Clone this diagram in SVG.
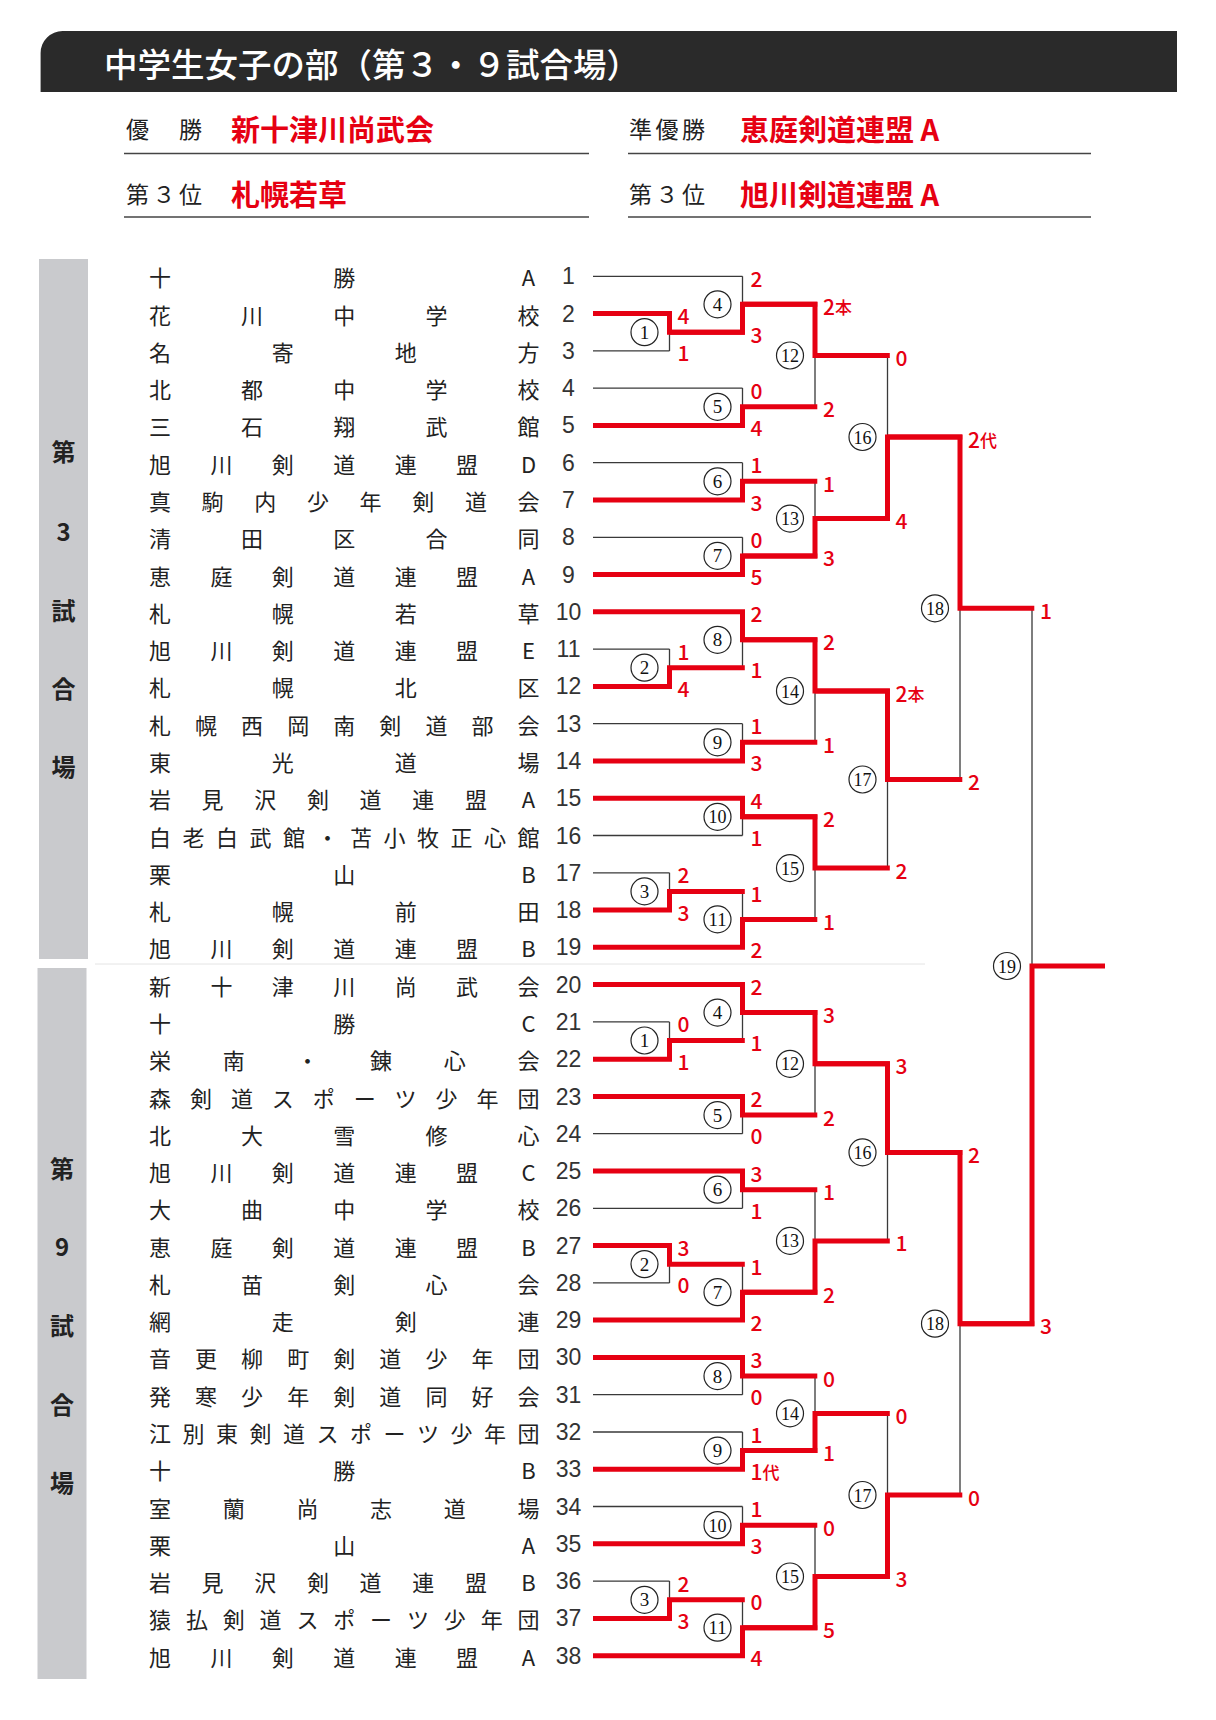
<svg xmlns="http://www.w3.org/2000/svg" width="1216" height="1720" viewBox="0 0 1216 1720">
<defs>
<style>
.nm{font-family:"Noto Sans CJK JP",sans-serif;font-size:22px;fill:#222;text-anchor:middle;dominant-baseline:central}
.no{font-family:"Liberation Sans",sans-serif;font-size:23px;fill:#333;text-anchor:middle;dominant-baseline:central}
.bk{stroke:#3a3a3a;stroke-width:1.3;fill:none}
.rd{stroke:#e60012;stroke-width:5;fill:none;stroke-linejoin:miter}
.sc{font-family:"Noto Sans CJK JP",sans-serif;font-size:21px;font-weight:500;fill:#e60012;dominant-baseline:central}
.sk{font-size:17px}
.cc{fill:#fff;stroke:#222;stroke-width:1.2}
.cn{font-family:"Liberation Serif",serif;font-size:19px;fill:#111;text-anchor:middle;dominant-baseline:central}
.sd{font-family:"Noto Sans CJK JP",sans-serif;font-size:24px;font-weight:700;fill:#222;text-anchor:middle;dominant-baseline:central}
.lb{font-family:"Noto Sans CJK JP",sans-serif;font-size:23px;fill:#222;letter-spacing:3.5px;dominant-baseline:central}
.rt{font-family:"Noto Sans CJK JP",sans-serif;font-size:29px;font-weight:700;fill:#e60012;dominant-baseline:central}
.ul{stroke:#444;stroke-width:1.6}
</style>
</defs>
<rect width="1216" height="1720" fill="#fff"/>
<g id="header">
<path d="M40.6 92 V53 A22 22 0 0 1 62.6 31 H1177 V92 Z" fill="#2a2a2a"/>
<text x="104" y="62" font-family="'Noto Sans CJK JP',sans-serif" font-size="33.5" font-weight="500" fill="#fff" dominant-baseline="central">中学生女子の部（第３・９試合場）</text>
</g>
<g id="results">
<text class="lb" x="126" y="128">優　勝</text>
<text class="rt" x="231" y="128">新十津川尚武会</text>
<line class="ul" x1="124" y1="153.5" x2="589" y2="153.5"/>
<text class="lb" x="629" y="128">準優勝</text>
<text class="rt" x="740" y="128">恵庭剣道連盟 A</text>
<line class="ul" x1="628" y1="153.5" x2="1091" y2="153.5"/>
<text class="lb" x="126" y="193">第３位</text>
<text class="rt" x="231" y="193">札幌若草</text>
<line class="ul" x1="124" y1="217" x2="589" y2="217"/>
<text class="lb" x="629" y="193">第３位</text>
<text class="rt" x="740" y="193">旭川剣道連盟 A</text>
<line class="ul" x1="628" y1="217" x2="1091" y2="217"/>
</g>
<g id="venue-3">
<rect x="39" y="259" width="49" height="700" fill="#c9cacd"/>
<text class="sd" x="63.5" y="450.7">第</text>
<text class="sd" x="63.5" y="530.7">3</text>
<text class="sd" x="63.5" y="609.7">試</text>
<text class="sd" x="63.5" y="687.5">合</text>
<text class="sd" x="63.5" y="765.4">場</text>
</g>
<g id="venue-9">
<rect x="37.5" y="968" width="49" height="711" fill="#c9cacd"/>
<text class="sd" x="62" y="1167.8">第</text>
<text class="sd" x="62" y="1245.6">9</text>
<text class="sd" x="62" y="1324.6">試</text>
<text class="sd" x="62" y="1403.5">合</text>
<text class="sd" x="62" y="1481.4">場</text>
</g>
<line x1="95" y1="964" x2="925" y2="964" stroke="#e4e4e4" stroke-width="1"/>
<g id="teams">
<g id="team-1"><text class="nm" x="160 344.3 528.5" y="276.3">十勝A</text><text class="no" x="568.5" y="276.3">1</text></g>
<g id="team-2"><text class="nm" x="160 252.1 344.3 436.4 528.5" y="313.6">花川中学校</text><text class="no" x="568.5" y="313.6">2</text></g>
<g id="team-3"><text class="nm" x="160 282.8 405.7 528.5" y="350.9">名寄地方</text><text class="no" x="568.5" y="350.9">3</text></g>
<g id="team-4"><text class="nm" x="160 252.1 344.3 436.4 528.5" y="388.1">北都中学校</text><text class="no" x="568.5" y="388.1">4</text></g>
<g id="team-5"><text class="nm" x="160 252.1 344.3 436.4 528.5" y="425.4">三石翔武館</text><text class="no" x="568.5" y="425.4">5</text></g>
<g id="team-6"><text class="nm" x="160 221.4 282.8 344.3 405.7 467.1 528.5" y="462.7">旭川剣道連盟D</text><text class="no" x="568.5" y="462.7">6</text></g>
<g id="team-7"><text class="nm" x="160 212.6 265.3 317.9 370.6 423.2 475.9 528.5" y="500">真駒内少年剣道会</text><text class="no" x="568.5" y="500">7</text></g>
<g id="team-8"><text class="nm" x="160 252.1 344.3 436.4 528.5" y="537.3">清田区合同</text><text class="no" x="568.5" y="537.3">8</text></g>
<g id="team-9"><text class="nm" x="160 221.4 282.8 344.3 405.7 467.1 528.5" y="574.5">恵庭剣道連盟A</text><text class="no" x="568.5" y="574.5">9</text></g>
<g id="team-10"><text class="nm" x="160 282.8 405.7 528.5" y="611.8">札幌若草</text><text class="no" x="568.5" y="611.8">10</text></g>
<g id="team-11"><text class="nm" x="160 221.4 282.8 344.3 405.7 467.1 528.5" y="649.1">旭川剣道連盟E</text><text class="no" x="568.5" y="649.1">11</text></g>
<g id="team-12"><text class="nm" x="160 282.8 405.7 528.5" y="686.4">札幌北区</text><text class="no" x="568.5" y="686.4">12</text></g>
<g id="team-13"><text class="nm" x="160 206.1 252.1 298.2 344.3 390.3 436.4 482.4 528.5" y="723.7">札幌西岡南剣道部会</text><text class="no" x="568.5" y="723.7">13</text></g>
<g id="team-14"><text class="nm" x="160 282.8 405.7 528.5" y="760.9">東光道場</text><text class="no" x="568.5" y="760.9">14</text></g>
<g id="team-15"><text class="nm" x="160 212.6 265.3 317.9 370.6 423.2 475.9 528.5" y="798.2">岩見沢剣道連盟A</text><text class="no" x="568.5" y="798.2">15</text></g>
<g id="team-16"><text class="nm" x="160 193.5 227 260.5 294 327.5 361 394.5 428 461.5 495 528.5" y="835.5">白老白武館・苫小牧正心館</text><text class="no" x="568.5" y="835.5">16</text></g>
<g id="team-17"><text class="nm" x="160 344.3 528.5" y="872.8">栗山B</text><text class="no" x="568.5" y="872.8">17</text></g>
<g id="team-18"><text class="nm" x="160 282.8 405.7 528.5" y="910.1">札幌前田</text><text class="no" x="568.5" y="910.1">18</text></g>
<g id="team-19"><text class="nm" x="160 221.4 282.8 344.3 405.7 467.1 528.5" y="947.3">旭川剣道連盟B</text><text class="no" x="568.5" y="947.3">19</text></g>
<g id="team-20"><text class="nm" x="160 221.4 282.8 344.3 405.7 467.1 528.5" y="984.6">新十津川尚武会</text><text class="no" x="568.5" y="984.6">20</text></g>
<g id="team-21"><text class="nm" x="160 344.3 528.5" y="1021.9">十勝C</text><text class="no" x="568.5" y="1021.9">21</text></g>
<g id="team-22"><text class="nm" x="160 233.7 307.4 381.1 454.8 528.5" y="1059.2">栄南・錬心会</text><text class="no" x="568.5" y="1059.2">22</text></g>
<g id="team-23"><text class="nm" x="160 200.9 241.9 282.8 323.8 364.7 405.6 446.6 487.5 528.5" y="1096.5">森剣道スポーツ少年団</text><text class="no" x="568.5" y="1096.5">23</text></g>
<g id="team-24"><text class="nm" x="160 252.1 344.3 436.4 528.5" y="1133.7">北大雪修心</text><text class="no" x="568.5" y="1133.7">24</text></g>
<g id="team-25"><text class="nm" x="160 221.4 282.8 344.3 405.7 467.1 528.5" y="1171">旭川剣道連盟C</text><text class="no" x="568.5" y="1171">25</text></g>
<g id="team-26"><text class="nm" x="160 252.1 344.3 436.4 528.5" y="1208.3">大曲中学校</text><text class="no" x="568.5" y="1208.3">26</text></g>
<g id="team-27"><text class="nm" x="160 221.4 282.8 344.3 405.7 467.1 528.5" y="1245.6">恵庭剣道連盟B</text><text class="no" x="568.5" y="1245.6">27</text></g>
<g id="team-28"><text class="nm" x="160 252.1 344.3 436.4 528.5" y="1282.9">札苗剣心会</text><text class="no" x="568.5" y="1282.9">28</text></g>
<g id="team-29"><text class="nm" x="160 282.8 405.7 528.5" y="1320.1">網走剣連</text><text class="no" x="568.5" y="1320.1">29</text></g>
<g id="team-30"><text class="nm" x="160 206.1 252.1 298.2 344.3 390.3 436.4 482.4 528.5" y="1357.4">音更柳町剣道少年団</text><text class="no" x="568.5" y="1357.4">30</text></g>
<g id="team-31"><text class="nm" x="160 206.1 252.1 298.2 344.3 390.3 436.4 482.4 528.5" y="1394.7">発寒少年剣道同好会</text><text class="no" x="568.5" y="1394.7">31</text></g>
<g id="team-32"><text class="nm" x="160 193.5 227 260.5 294 327.5 361 394.5 428 461.5 495 528.5" y="1432">江別東剣道スポーツ少年団</text><text class="no" x="568.5" y="1432">32</text></g>
<g id="team-33"><text class="nm" x="160 344.3 528.5" y="1469.3">十勝B</text><text class="no" x="568.5" y="1469.3">33</text></g>
<g id="team-34"><text class="nm" x="160 233.7 307.4 381.1 454.8 528.5" y="1506.5">室蘭尚志道場</text><text class="no" x="568.5" y="1506.5">34</text></g>
<g id="team-35"><text class="nm" x="160 344.3 528.5" y="1543.8">栗山A</text><text class="no" x="568.5" y="1543.8">35</text></g>
<g id="team-36"><text class="nm" x="160 212.6 265.3 317.9 370.6 423.2 475.9 528.5" y="1581.1">岩見沢剣道連盟B</text><text class="no" x="568.5" y="1581.1">36</text></g>
<g id="team-37"><text class="nm" x="160 196.9 233.7 270.6 307.4 344.3 381.1 418 454.8 491.7 528.5" y="1618.4">猿払剣道スポーツ少年団</text><text class="no" x="568.5" y="1618.4">37</text></g>
<g id="team-38"><text class="nm" x="160 221.4 282.8 344.3 405.7 467.1 528.5" y="1655.7">旭川剣道連盟A</text><text class="no" x="568.5" y="1655.7">38</text></g>
</g>
<g id="connectors">
<path class="bk" d="M593 276.3H742.5M593 313.6H669.5M593 350.9H669.5M593 388.1H742.5M593 425.4H742.5M593 462.7H742.5M593 500H742.5M593 537.3H742.5M593 574.5H742.5M593 611.8H742.5M593 649.1H669.5M593 686.4H669.5M593 723.7H742.5M593 760.9H742.5M593 798.2H742.5M593 835.5H742.5M593 872.8H669.5M593 910.1H669.5M593 947.3H742.5
M593 984.6H742.5M593 1021.9H669.5M593 1059.2H669.5M593 1096.5H742.5M593 1133.7H742.5M593 1171H742.5M593 1208.3H742.5M593 1245.6H669.5M593 1282.9H669.5M593 1320.1H742.5M593 1357.4H742.5M593 1394.7H742.5M593 1432H742.5M593 1469.3H742.5M593 1506.5H742.5M593 1543.8H742.5M593 1581.1H669.5M593 1618.4H669.5M593 1655.7H742.5
M669.5 313.6V350.9M669.5 649.1V686.4M669.5 872.8V910.1
M742.5 276.3V332.2M742.5 388.1V425.4M742.5 462.7V500M742.5 537.3V574.5M742.5 611.8V667.7M742.5 723.7V760.9M742.5 798.2V835.5M742.5 891.4V947.3
M815 304.3V406.8M815 481.3V555.9M815 639.8V742.3M815 816.8V919.4
M887.5 355.5V518.6M887.5 691V868.1M960 437V779.5M1032 608.3V1323.7
M669.5 1021.9V1059.2M669.5 1245.6V1282.9M669.5 1581.1V1618.4
M742.5 984.6V1040.5M742.5 1096.5V1133.7M742.5 1171V1208.3M742.5 1264.2V1320.1M742.5 1357.4V1394.7M742.5 1432V1469.3M742.5 1506.5V1543.8M742.5 1599.8V1655.7
M815 1012.6V1115.1M815 1189.7V1292.2M815 1376.1V1450.6M815 1525.2V1627.7
M887.5 1063.8V1240.9M887.5 1413.4V1576.5M960 1152.4V1495"/>
<g class="rd">
<path d="M593 313.6H669.5V332.2H744.8"/>
<path d="M669.5 332.2H742.5V304.3H817.3"/>
<path d="M593 425.4H742.5V406.8H817.3"/>
<path d="M742.5 304.3H815V355.5H889.8"/>
<path d="M593 500H742.5V481.3H817.3"/>
<path d="M593 574.5H742.5V555.9H817.3"/>
<path d="M742.5 555.9H815V518.6H889.8"/>
<path d="M815 518.6H887.5V437H962.3"/>
<path d="M593 686.4H669.5V667.7H744.8"/>
<path d="M593 611.8H742.5V639.8H817.3"/>
<path d="M593 760.9H742.5V742.3H817.3"/>
<path d="M742.5 639.8H815V691H889.8"/>
<path d="M593 798.2H742.5V816.8H817.3"/>
<path d="M593 910.1H669.5V891.4H744.8"/>
<path d="M593 947.3H742.5V919.4H817.3"/>
<path d="M742.5 816.8H815V868.1H889.8"/>
<path d="M815 691H887.5V779.5H962.3"/>
<path d="M887.5 437H960V608.3H1034.3"/>
<path d="M593 1059.2H669.5V1040.5H744.8"/>
<path d="M593 984.6H742.5V1012.6H817.3"/>
<path d="M593 1096.5H742.5V1115.1H817.3"/>
<path d="M742.5 1012.6H815V1063.8H889.8"/>
<path d="M593 1171H742.5V1189.7H817.3"/>
<path d="M593 1245.6H669.5V1264.2H744.8"/>
<path d="M593 1320.1H742.5V1292.2H817.3"/>
<path d="M742.5 1292.2H815V1240.9H889.8"/>
<path d="M815 1063.8H887.5V1152.4H962.3"/>
<path d="M593 1357.4H742.5V1376.1H817.3"/>
<path d="M593 1469.3H742.5V1450.6H817.3"/>
<path d="M742.5 1450.6H815V1413.4H889.8"/>
<path d="M593 1543.8H742.5V1525.2H817.3"/>
<path d="M593 1618.4H669.5V1599.8H744.8"/>
<path d="M593 1655.7H742.5V1627.7H817.3"/>
<path d="M742.5 1627.7H815V1576.5H889.8"/>
<path d="M815 1576.5H887.5V1495H962.3"/>
<path d="M887.5 1152.4H960V1323.7H1034.3"/>
<path d="M960 1323.7H1032V966H1105"/>
</g>
</g>
<g id="matches">
<g id="m3-1"><circle class="cc" cx="644.5" cy="332.2" r="13.5"/><text class="cn" x="644.5" y="332.2">1</text><text class="sc" x="677.5" y="315.1">4</text><text class="sc" x="677.5" y="352.4">1</text></g>
<g id="m3-4"><circle class="cc" cx="717.5" cy="304.3" r="13.5"/><text class="cn" x="717.5" y="304.3">4</text><text class="sc" x="750.5" y="277.8">2</text><text class="sc" x="750.5" y="333.7">3</text></g>
<g id="m3-5"><circle class="cc" cx="717.5" cy="406.8" r="13.5"/><text class="cn" x="717.5" y="406.8">5</text><text class="sc" x="750.5" y="389.6">0</text><text class="sc" x="750.5" y="426.9">4</text></g>
<g id="m3-12"><circle class="cc" cx="790" cy="355.5" r="13.5"/><text class="cn" x="790" y="355.5" textLength="18" lengthAdjust="spacingAndGlyphs">12</text><text class="sc" x="823" y="305.8">2<tspan class="sk">本</tspan></text><text class="sc" x="823" y="408.3">2</text></g>
<g id="m3-6"><circle class="cc" cx="717.5" cy="481.3" r="13.5"/><text class="cn" x="717.5" y="481.3">6</text><text class="sc" x="750.5" y="464.2">1</text><text class="sc" x="750.5" y="501.5">3</text></g>
<g id="m3-7"><circle class="cc" cx="717.5" cy="555.9" r="13.5"/><text class="cn" x="717.5" y="555.9">7</text><text class="sc" x="750.5" y="538.8">0</text><text class="sc" x="750.5" y="576">5</text></g>
<g id="m3-13"><circle class="cc" cx="790" cy="518.6" r="13.5"/><text class="cn" x="790" y="518.6" textLength="18" lengthAdjust="spacingAndGlyphs">13</text><text class="sc" x="823" y="482.8">1</text><text class="sc" x="823" y="557.4">3</text></g>
<g id="m3-16"><circle class="cc" cx="862.5" cy="437" r="13.5"/><text class="cn" x="862.5" y="437" textLength="18" lengthAdjust="spacingAndGlyphs">16</text><text class="sc" x="895.5" y="357">0</text><text class="sc" x="895.5" y="520.1">4</text></g>
<g id="m3-2"><circle class="cc" cx="644.5" cy="667.7" r="13.5"/><text class="cn" x="644.5" y="667.7">2</text><text class="sc" x="677.5" y="650.6">1</text><text class="sc" x="677.5" y="687.9">4</text></g>
<g id="m3-8"><circle class="cc" cx="717.5" cy="639.8" r="13.5"/><text class="cn" x="717.5" y="639.8">8</text><text class="sc" x="750.5" y="613.3">2</text><text class="sc" x="750.5" y="669.2">1</text></g>
<g id="m3-9"><circle class="cc" cx="717.5" cy="742.3" r="13.5"/><text class="cn" x="717.5" y="742.3">9</text><text class="sc" x="750.5" y="725.2">1</text><text class="sc" x="750.5" y="762.4">3</text></g>
<g id="m3-14"><circle class="cc" cx="790" cy="691" r="13.5"/><text class="cn" x="790" y="691" textLength="18" lengthAdjust="spacingAndGlyphs">14</text><text class="sc" x="823" y="641.3">2</text><text class="sc" x="823" y="743.8">1</text></g>
<g id="m3-10"><circle class="cc" cx="717.5" cy="816.8" r="13.5"/><text class="cn" x="717.5" y="816.8" textLength="18" lengthAdjust="spacingAndGlyphs">10</text><text class="sc" x="750.5" y="799.7">4</text><text class="sc" x="750.5" y="837">1</text></g>
<g id="m3-3"><circle class="cc" cx="644.5" cy="891.4" r="13.5"/><text class="cn" x="644.5" y="891.4">3</text><text class="sc" x="677.5" y="874.3">2</text><text class="sc" x="677.5" y="911.6">3</text></g>
<g id="m3-11"><circle class="cc" cx="717.5" cy="919.4" r="13.5"/><text class="cn" x="717.5" y="919.4" textLength="18" lengthAdjust="spacingAndGlyphs">11</text><text class="sc" x="750.5" y="892.9">1</text><text class="sc" x="750.5" y="948.8">2</text></g>
<g id="m3-15"><circle class="cc" cx="790" cy="868.1" r="13.5"/><text class="cn" x="790" y="868.1" textLength="18" lengthAdjust="spacingAndGlyphs">15</text><text class="sc" x="823" y="818.3">2</text><text class="sc" x="823" y="920.9">1</text></g>
<g id="m3-17"><circle class="cc" cx="862.5" cy="779.5" r="13.5"/><text class="cn" x="862.5" y="779.5" textLength="18" lengthAdjust="spacingAndGlyphs">17</text><text class="sc" x="895.5" y="692.5">2<tspan class="sk">本</tspan></text><text class="sc" x="895.5" y="869.6">2</text></g>
<g id="m3-18"><circle class="cc" cx="935" cy="608.3" r="13.5"/><text class="cn" x="935" y="608.3" textLength="18" lengthAdjust="spacingAndGlyphs">18</text><text class="sc" x="968" y="438.5">2<tspan class="sk">代</tspan></text><text class="sc" x="968" y="781">2</text></g>
<g id="m-19"><circle class="cc" cx="1007" cy="966" r="13.5"/><text class="cn" x="1007" y="966" textLength="18" lengthAdjust="spacingAndGlyphs">19</text><text class="sc" x="1040" y="609.8">1</text><text class="sc" x="1040" y="1325.2">3</text></g>
<g id="m9-1"><circle class="cc" cx="644.5" cy="1040.5" r="13.5"/><text class="cn" x="644.5" y="1040.5">1</text><text class="sc" x="677.5" y="1023.4">0</text><text class="sc" x="677.5" y="1060.7">1</text></g>
<g id="m9-4"><circle class="cc" cx="717.5" cy="1012.6" r="13.5"/><text class="cn" x="717.5" y="1012.6">4</text><text class="sc" x="750.5" y="986.1">2</text><text class="sc" x="750.5" y="1042">1</text></g>
<g id="m9-5"><circle class="cc" cx="717.5" cy="1115.1" r="13.5"/><text class="cn" x="717.5" y="1115.1">5</text><text class="sc" x="750.5" y="1098">2</text><text class="sc" x="750.5" y="1135.2">0</text></g>
<g id="m9-12"><circle class="cc" cx="790" cy="1063.8" r="13.5"/><text class="cn" x="790" y="1063.8" textLength="18" lengthAdjust="spacingAndGlyphs">12</text><text class="sc" x="823" y="1014.1">3</text><text class="sc" x="823" y="1116.6">2</text></g>
<g id="m9-6"><circle class="cc" cx="717.5" cy="1189.7" r="13.5"/><text class="cn" x="717.5" y="1189.7">6</text><text class="sc" x="750.5" y="1172.5">3</text><text class="sc" x="750.5" y="1209.8">1</text></g>
<g id="m9-2"><circle class="cc" cx="644.5" cy="1264.2" r="13.5"/><text class="cn" x="644.5" y="1264.2">2</text><text class="sc" x="677.5" y="1247.1">3</text><text class="sc" x="677.5" y="1284.4">0</text></g>
<g id="m9-7"><circle class="cc" cx="717.5" cy="1292.2" r="13.5"/><text class="cn" x="717.5" y="1292.2">7</text><text class="sc" x="750.5" y="1265.7">1</text><text class="sc" x="750.5" y="1321.6">2</text></g>
<g id="m9-13"><circle class="cc" cx="790" cy="1240.9" r="13.5"/><text class="cn" x="790" y="1240.9" textLength="18" lengthAdjust="spacingAndGlyphs">13</text><text class="sc" x="823" y="1191.2">1</text><text class="sc" x="823" y="1293.7">2</text></g>
<g id="m9-16"><circle class="cc" cx="862.5" cy="1152.4" r="13.5"/><text class="cn" x="862.5" y="1152.4" textLength="18" lengthAdjust="spacingAndGlyphs">16</text><text class="sc" x="895.5" y="1065.3">3</text><text class="sc" x="895.5" y="1242.4">1</text></g>
<g id="m9-8"><circle class="cc" cx="717.5" cy="1376.1" r="13.5"/><text class="cn" x="717.5" y="1376.1">8</text><text class="sc" x="750.5" y="1358.9">3</text><text class="sc" x="750.5" y="1396.2">0</text></g>
<g id="m9-9"><circle class="cc" cx="717.5" cy="1450.6" r="13.5"/><text class="cn" x="717.5" y="1450.6">9</text><text class="sc" x="750.5" y="1433.5">1</text><text class="sc" x="750.5" y="1470.8">1<tspan class="sk">代</tspan></text></g>
<g id="m9-14"><circle class="cc" cx="790" cy="1413.4" r="13.5"/><text class="cn" x="790" y="1413.4" textLength="18" lengthAdjust="spacingAndGlyphs">14</text><text class="sc" x="823" y="1377.6">0</text><text class="sc" x="823" y="1452.1">1</text></g>
<g id="m9-10"><circle class="cc" cx="717.5" cy="1525.2" r="13.5"/><text class="cn" x="717.5" y="1525.2" textLength="18" lengthAdjust="spacingAndGlyphs">10</text><text class="sc" x="750.5" y="1508">1</text><text class="sc" x="750.5" y="1545.3">3</text></g>
<g id="m9-3"><circle class="cc" cx="644.5" cy="1599.8" r="13.5"/><text class="cn" x="644.5" y="1599.8">3</text><text class="sc" x="677.5" y="1582.6">2</text><text class="sc" x="677.5" y="1619.9">3</text></g>
<g id="m9-11"><circle class="cc" cx="717.5" cy="1627.7" r="13.5"/><text class="cn" x="717.5" y="1627.7" textLength="18" lengthAdjust="spacingAndGlyphs">11</text><text class="sc" x="750.5" y="1601.3">0</text><text class="sc" x="750.5" y="1657.2">4</text></g>
<g id="m9-15"><circle class="cc" cx="790" cy="1576.5" r="13.5"/><text class="cn" x="790" y="1576.5" textLength="18" lengthAdjust="spacingAndGlyphs">15</text><text class="sc" x="823" y="1526.7">0</text><text class="sc" x="823" y="1629.2">5</text></g>
<g id="m9-17"><circle class="cc" cx="862.5" cy="1495" r="13.5"/><text class="cn" x="862.5" y="1495" textLength="18" lengthAdjust="spacingAndGlyphs">17</text><text class="sc" x="895.5" y="1414.9">0</text><text class="sc" x="895.5" y="1578">3</text></g>
<g id="m9-18"><circle class="cc" cx="935" cy="1323.7" r="13.5"/><text class="cn" x="935" y="1323.7" textLength="18" lengthAdjust="spacingAndGlyphs">18</text><text class="sc" x="968" y="1153.9">2</text><text class="sc" x="968" y="1496.5">0</text></g>
</g>
</svg>
